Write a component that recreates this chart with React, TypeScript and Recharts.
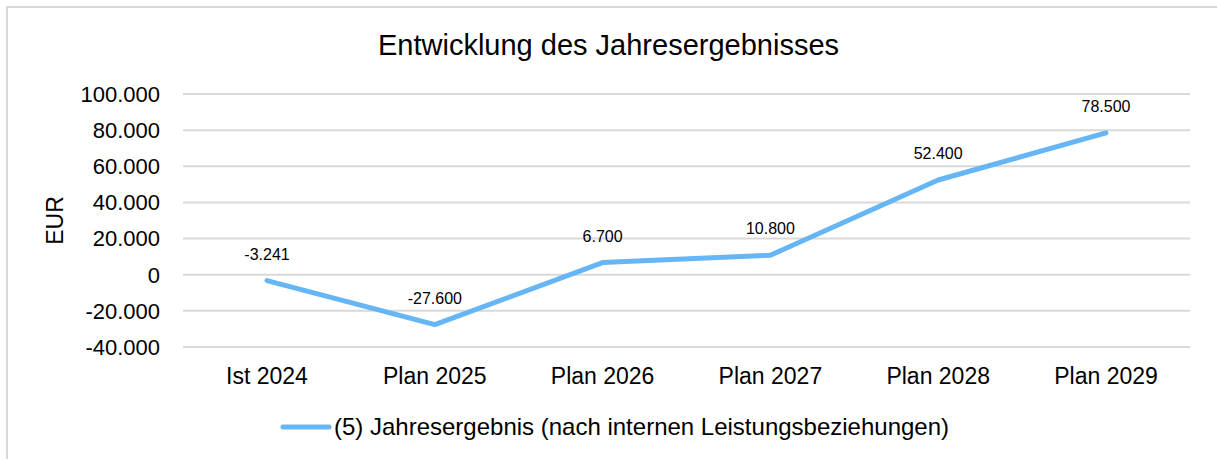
import React from 'react';
import { LineChart, Line, XAxis, YAxis, CartesianGrid, LabelList } from 'recharts';

const years = ['Ist 2024', 'Plan 2025', 'Plan 2026', 'Plan 2027', 'Plan 2028', 'Plan 2029'];
const result = [-3241, -27600, 6700, 10800, 52400, 78500];
const yTicks = [-40000, -20000, 0, 20000, 40000, 60000, 80000, 100000];

const seriesName = '(5) Jahresergebnis (nach internen Leistungsbeziehungen)';
const lineColor = '#66b5f5';
const font = '"Liberation Sans", Arial, sans-serif';

const data = years.map((y, i) => ({ year: y, value: result[i] }));

const fmt = (v: number) => {
  const s = Math.abs(v).toString().replace(/\B(?=(\d{3})+(?!\d))/g, '.');
  return v < 0 ? '-' + s : s;
};

export default function App() {
  return (
    <div style={{ position: 'absolute', left: 0, top: 0, width: 1217, height: 459, overflow: 'hidden', background: '#fff' }}>
      <div style={{ position: 'absolute', left: 6, top: 6, width: 1260, height: 500, border: '2px solid #d9d9d9', boxSizing: 'border-box' }} />
      <div style={{ position: 'absolute', left: 0, top: 29, width: 1217, textAlign: 'center', fontFamily: font, fontSize: 29, color: '#000' }}>
        Entwicklung des Jahresergebnisses
      </div>
      <div style={{ position: 'absolute', left: 0, top: 0 }}>
        <LineChart width={1217} height={459} data={data} margin={{ top: 94, right: 27, bottom: 82, left: 0 }}>
          <CartesianGrid vertical={false} stroke="#d9d9d9" strokeWidth={2} />
          <XAxis
            dataKey="year"
            height={30}
            axisLine={false}
            tickLine={false}
            tickSize={0}
            tickMargin={21}
            padding={{ left: 84, right: 84 }}
            tick={{ fill: '#000', fontSize: 23, fontFamily: font }}
            interval={0}
          />
          <YAxis
            width={183}
            domain={[-40000, 100000]}
            ticks={yTicks}
            interval={0}
            axisLine={false}
            tickLine={false}
            tickSize={0}
            tickMargin={23}
            tickFormatter={fmt}
            tick={{ fill: '#000', fontSize: 22, fontFamily: font }}
            label={{ value: 'EUR', angle: -90, position: 'insideLeft', offset: 55, style: { fill: '#000', fontSize: 23, fontFamily: font, textAnchor: 'middle' } }}
          />
          <Line
            type="linear"
            dataKey="value"
            name={seriesName}
            stroke={lineColor}
            strokeWidth={5}
            strokeLinecap="round"
            strokeLinejoin="round"
            dot={false}
            activeDot={false}
            isAnimationActive={false}
          >
            <LabelList dataKey="value" position="top" offset={21} formatter={(v: any) => fmt(Number(v))} style={{ fill: '#000', fontSize: 16, fontFamily: font }} />
          </Line>
        </LineChart>
      </div>
      <div style={{ position: 'absolute', left: 0, top: 413, width: 1217, paddingLeft: 12, boxSizing: 'border-box', display: 'flex', alignItems: 'center', justifyContent: 'center', fontFamily: font, fontSize: 24, color: '#000' }}>
        <svg width={52} height={10} style={{ marginRight: 2 }}>
          <line x1={3} y1={5} x2={49} y2={5} stroke={lineColor} strokeWidth={5} strokeLinecap="round" />
        </svg>
        <span>{seriesName}</span>
      </div>
    </div>
  );
}
